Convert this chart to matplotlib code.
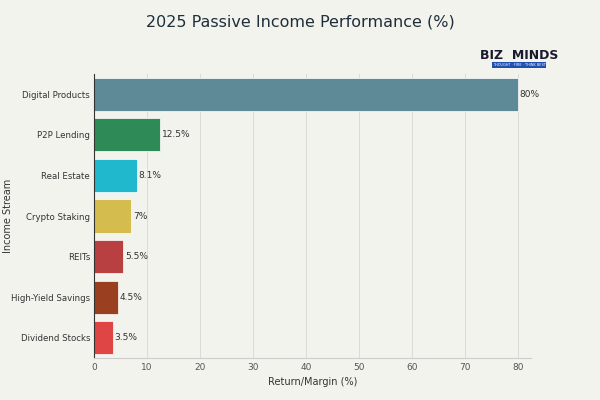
import matplotlib.pyplot as plt

streams = ["Digital Products", "P2P Lending", "Real Estate", "Crypto Staking",
           "REITs", "High-Yield Savings", "Dividend Stocks"]
returns = [80, 12.5, 8.1, 7, 5.5, 4.5, 3.5]
labels = ["80%", "12.5%", "8.1%", "7%", "5.5%", "4.5%", "3.5%"]
colors = ["#5d8a96", "#2e8b57", "#1fb8cc", "#d4bd4e", "#b84040", "#9a4020", "#df4545"]

bg = "#f3f3ee"
fig = plt.figure(figsize=(6, 4), dpi=100, facecolor=bg)
ax = fig.add_axes([0.157, 0.105, 0.728, 0.71], facecolor=bg)

y = list(range(len(streams)))
bars = ax.barh(y, returns, height=0.82, color=colors, edgecolor="white", linewidth=0.5)
for bar, lab in zip(bars, labels):
    ax.text(bar.get_width() + 0.3, bar.get_y() + bar.get_height() / 2, lab,
            va="center", ha="left", fontsize=6.5, color="#333333")

ax.set_yticks(y)
ax.set_yticklabels(streams, fontsize=6.2, color="#333333")
ax.set_ylim(len(streams) - 0.5, -0.5)
ax.set_xlim(0, 82.5)
ax.set_xticks(range(0, 81, 10))
ax.tick_params(axis="x", labelsize=6.5, colors="#555555", length=0)
ax.tick_params(axis="y", length=0, pad=3)
ax.grid(axis="x", color="#dcdcd6", linewidth=0.7)
ax.set_axisbelow(True)
for s in ["top", "right"]:
    ax.spines[s].set_visible(False)
ax.spines["left"].set_color("#333333")
ax.spines["bottom"].set_color("#cccccc")
ax.set_xlabel("Return/Margin (%)", fontsize=7, color="#333333")
ax.set_ylabel("Income Stream", fontsize=7, color="#333333")
ax.yaxis.set_label_coords(-0.185, 0.5)

fig.text(0.5, 0.945, "2025 Passive Income Performance (%)", ha="center", va="center",
         fontsize=11.5, color="#1f2f3a")
fig.text(0.865, 0.862, "BIZ  MINDS", ha="center", va="center", fontsize=9,
         fontweight="bold", color="#1a1a2e")
fig.text(0.865, 0.838, "THOUGHT · FIRE · THINK BEST", ha="center", va="center", fontsize=2.5,
         color="white", bbox=dict(boxstyle="square,pad=0.3", fc="#1f4fb0", ec="none"))

fig.savefig("out.png", dpi=100, facecolor=bg)
